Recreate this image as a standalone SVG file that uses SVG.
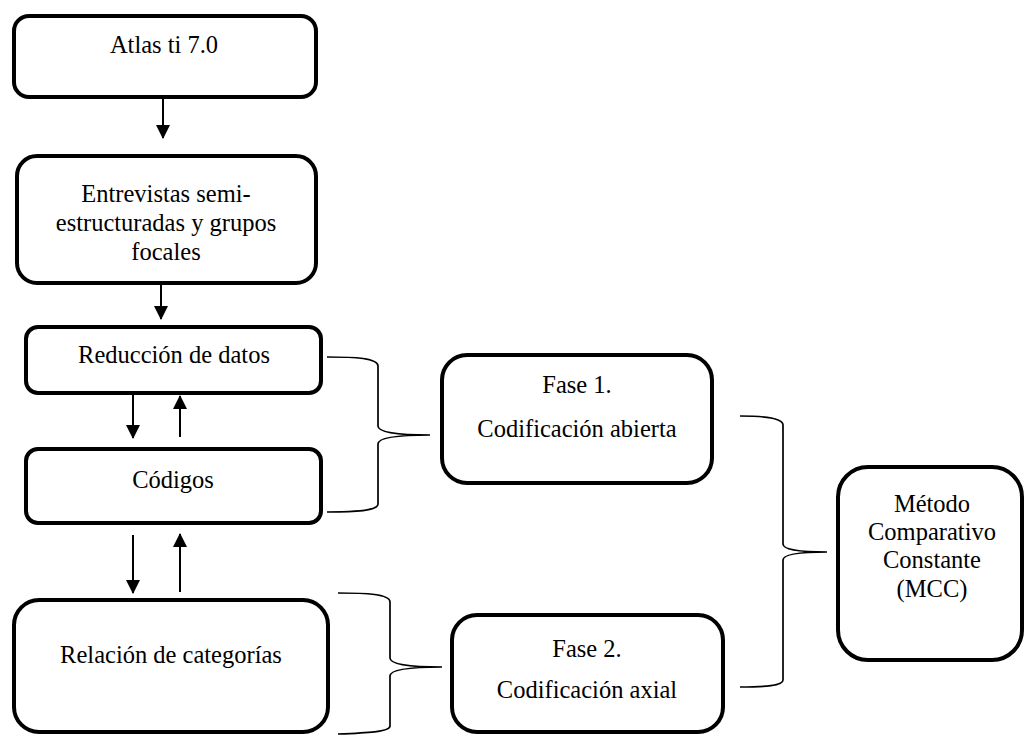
<svg xmlns="http://www.w3.org/2000/svg" width="1025" height="735" viewBox="0 0 1025 735">
<style>
.box{fill:#fff;stroke:#000;stroke-width:4}
.t{font-family:"Liberation Serif","Times New Roman",serif;font-size:24.5px;fill:#000;text-anchor:middle}
.arr{stroke:#000;stroke-width:2;fill:none;marker-end:url(#ah)}
.brace{stroke:#000;stroke-width:1.7;fill:none}
</style>
<defs>
<marker id="ah" markerUnits="userSpaceOnUse" markerWidth="14" markerHeight="14" viewBox="0 0 14 14" refX="13" refY="7" orient="auto">
<path d="M0,0 L14,7 L0,14 Z" fill="#000"/>
</marker>
</defs>
<rect width="1025" height="735" fill="#fff"/>
<g id="connectors">
<line class="arr" x1="163" y1="99" x2="163" y2="138"/>
<line class="arr" x1="161" y1="285" x2="161" y2="319"/>
<line class="arr" x1="133" y1="395" x2="133" y2="438"/>
<line class="arr" x1="180" y1="437" x2="180" y2="396"/>
<line class="arr" x1="133" y1="535" x2="133" y2="593"/>
<line class="arr" x1="180" y1="592" x2="180" y2="534"/>
<path class="brace" d="M327,357 C355,357 378,358 378,366 L378,426 C378,432 395,435 430,435 C395,435 378,438 378,444 L378,504 C378,511 355,512 327,512"/>
<path class="brace" d="M338,593 C366,593 390,594 390,602 L390,658 C390,664 407,667 442,667 C407,667 390,670 390,676 L390,726 C390,732 366,733 338,734"/>
<path class="brace" d="M740,416 C765,416 783,418 783,425 L783,544 C783,550 800,552 827,552 C800,552 783,554 783,560 L783,680 C783,686 765,687 740,687"/>
</g>
<g id="atlas">
<rect class="box" x="14" y="16" width="302" height="81" rx="15"/>
<text class="t" x="164" y="53">Atlas ti 7.0</text>
</g>
<g id="entrevistas">
<rect class="box" x="17" y="156" width="299" height="127" rx="20"/>
<text class="t" x="166" y="202">Entrevistas semi-</text>
<text class="t" x="166" y="231">estructuradas y grupos</text>
<text class="t" x="166" y="260">focales</text>
</g>
<g id="reduccion">
<rect class="box" x="26" y="327" width="295" height="66" rx="12"/>
<text class="t" x="174" y="363">Reducción de datos</text>
</g>
<g id="codigos">
<rect class="box" x="26" y="449" width="295" height="74" rx="12"/>
<text class="t" x="173" y="488">Códigos</text>
</g>
<g id="relacion">
<rect class="box" x="14" y="600" width="314" height="132" rx="25"/>
<text class="t" x="171" y="663">Relación de categorías</text>
</g>
<g id="fase1">
<rect class="box" x="442" y="355" width="270" height="128" rx="25"/>
<text class="t" x="577" y="393">Fase 1.</text>
<text class="t" x="577" y="437">Codificación abierta</text>
</g>
<g id="fase2">
<rect class="box" x="452" y="615" width="271" height="117" rx="25"/>
<text class="t" x="587" y="657">Fase 2.</text>
<text class="t" x="587" y="698">Codificación axial</text>
</g>
<g id="mcc">
<rect class="box" x="838" y="467" width="184" height="193" rx="30"/>
<text class="t" x="932" y="512">Método</text>
<text class="t" x="932" y="540">Comparativo</text>
<text class="t" x="932" y="568">Constante</text>
<text class="t" x="932" y="597">(MCC)</text>
</g>
</svg>
